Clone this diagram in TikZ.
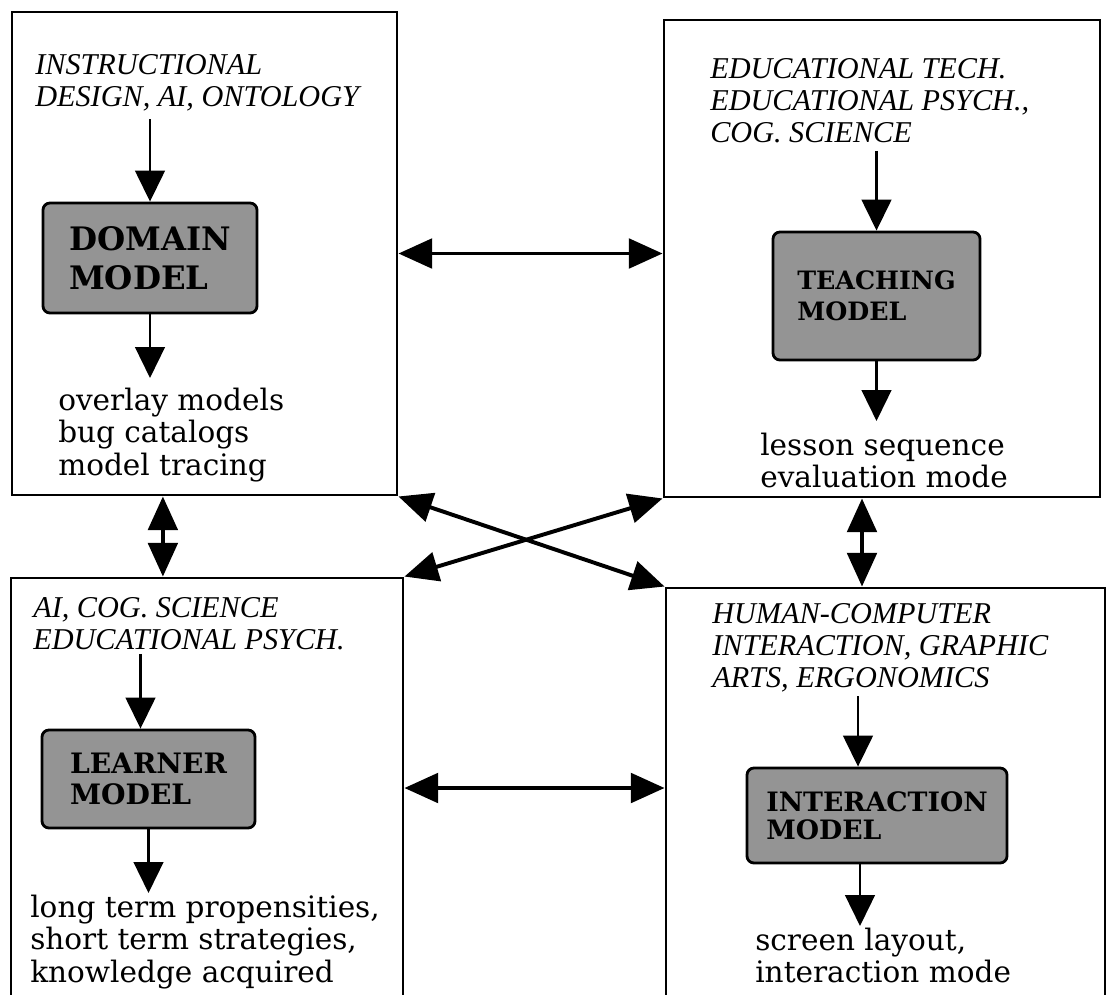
\documentclass[tikz,border=0pt]{standalone}
\usepackage{fontspec}
\setmainfont{DejaVu Serif}
\newfontfamily\discfont{Liberation Serif}
\usetikzlibrary{arrows.meta}

\begin{document}
\begin{tikzpicture}[x=0.025cm, y=-0.025cm,
		area/.style={draw, line width=2pt, inner sep=0pt},
		core/.style={draw, line width=2pt, rounded corners=5pt, fill=black!42, inner sep=0pt, align=left, font=\fontsize{20}{22}\selectfont\bfseries},
		disc/.style={anchor=north west, inner sep=0pt, align=left, font=\discfont\itshape\fontsize{21.5}{22.7}\selectfont},
		use/.style={anchor=north west, inner sep=0pt, align=left, font=\fontsize{21}{22.9}\selectfont},
		flow/.style={-{Triangle[length=22pt,width=21pt]}, line width=2pt},
		link/.style={{Triangle[length=24pt,width=21pt]}-{Triangle[length=24pt,width=21pt]}, line width=2.8pt}]
			%%%%% START %%%%%
			\useasboundingbox (0,0) rectangle (1109,994);
			\clip (0,0) rectangle (1109,994);
			
			\node[area, minimum width=9.625cm, minimum height=12.075cm] (dom) at (204.5,253.5) {};
			\node[area, minimum width=10.9cm, minimum height=11.925cm] (teach) at (882,258.5) {};
			\node[area, minimum width=9.8cm, minimum height=11.3cm] (learn) at (207,804) {};
			\node[area, minimum width=10.975cm, minimum height=11.05cm] (inter) at (885.5,809) {};
			
			% domain
			\node[disc] (dsrc) at (35,54) {INSTRUCTIONAL\\DESIGN, AI, ONTOLOGY};
			\node[core, minimum width=5.35cm, minimum height=2.75cm, font=\fontsize{23}{27.6}\selectfont\bfseries] (dmod) at (150,258) {DOMAIN\\MODEL};
			\node[use] (duse) at (58,388) {overlay models\\bug catalogs\\model tracing};
			\draw[flow] ([yshift=-0.2cm]dmod.north |- dsrc.south) -- (dmod.north);
			\draw[flow] (dmod.south) -- ([yshift=0.25cm]dmod.south |- duse.north);
			
			% teaching
			\node[disc] (tsrc) at (710,58) {EDUCATIONAL TECH.\\EDUCATIONAL PSYCH.,\\COG. SCIENCE};
			\node[core, minimum width=5.175cm, minimum height=3.2cm, font=\fontsize{18}{22}\selectfont\bfseries] (tmod) at (876.5,296) {TEACHING\\MODEL};
			\node[use] (tuse) at (760,433) {lesson sequence\\evaluation mode};
			\draw[flow] ([yshift=-0.2cm]tmod.north |- tsrc.south) -- (tmod.north);
			\draw[flow] (tmod.south) -- ([yshift=0.3cm]tmod.south |- tuse.north);
			
			% learner
			\node[disc] (lsrc) at (33,597) {AI, COG. SCIENCE\\EDUCATIONAL PSYCH.};
			\node[core, minimum width=5.325cm, minimum height=2.45cm] (lmod) at (148.5,779) {LEARNER\\MODEL};
			\node[use] (luse) at (30,895) {long term propensities,\\short term strategies,\\knowledge acquired};
			\draw[flow] ([xshift=-0.2cm,yshift=-0.1cm]lmod.north |- lsrc.south) -- ([xshift=-0.2cm]lmod.north);
			\draw[flow] (lmod.south) -- ([yshift=0.05cm]lmod.south |- luse.north);
			
			% interaction
			\node[disc] (isrc) at (712,603) {HUMAN-COMPUTER\\INTERACTION, GRAPHIC\\ARTS, ERGONOMICS};
			\node[core, minimum width=6.5cm, minimum height=2.375cm, font=\fontsize{19}{20}\selectfont\bfseries] (imod) at (877,815.5) {INTERACTION\\MODEL};
			\node[use] (iuse) at (755,928) {screen layout,\\interaction mode};
			\draw[flow] ([xshift=-0.475cm,yshift=-0.1cm]imod.north |- isrc.south) -- ([xshift=-0.475cm]imod.north);
			\draw[flow] ([xshift=-0.425cm]imod.south) -- ([xshift=-0.425cm,yshift=0.05cm]imod.south |- iuse.north);
			
			% links between the models
			\draw[link] (dom.east) -- (dom.east -| teach.west);
			\draw[link] ([xshift=-1.04cm]dom.south) -- ([xshift=-1.04cm]dom.south |- learn.north);
			\draw[link] ([xshift=-0.5cm]teach.south) -- ([xshift=-0.5cm]teach.south |- inter.north);
			\draw[link] ([yshift=0.4cm]learn.east) -- ([yshift=0.4cm]learn.east -| inter.west);
			\draw[link] (dom.south east) -- (inter.north west);
			\draw[link] (teach.south west) -- (learn.north east);
			%%%%% END %%%%%
\end{tikzpicture}
\end{document}
